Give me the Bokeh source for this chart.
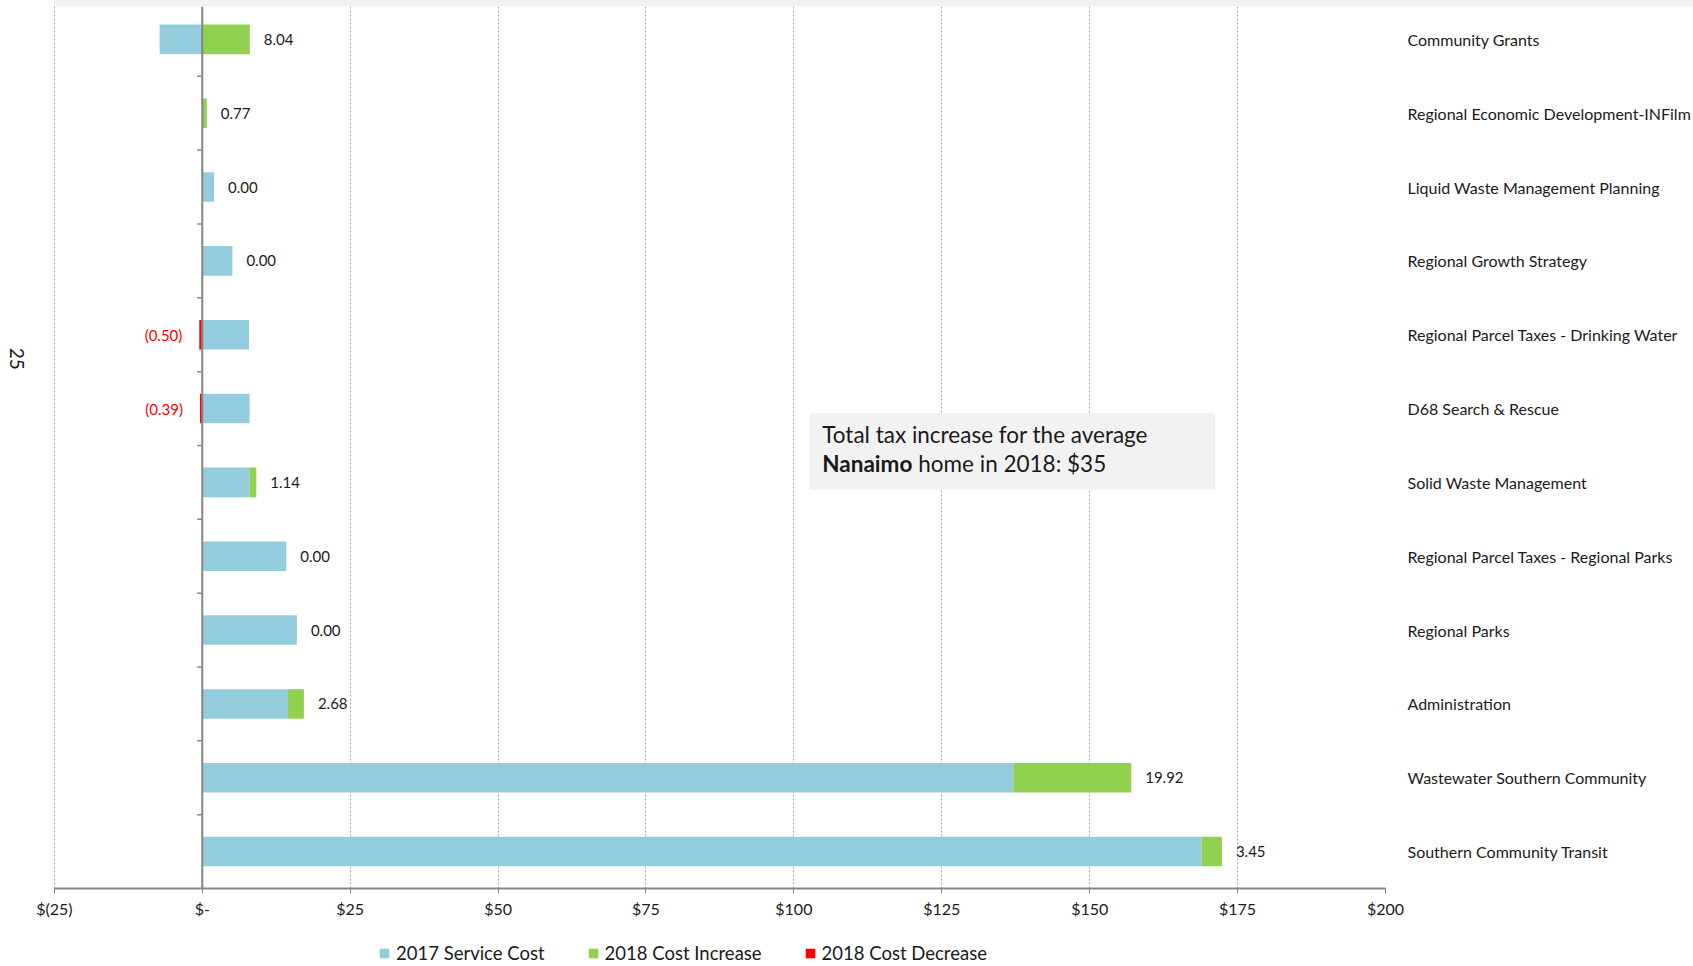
import math
from bokeh.plotting import figure
from bokeh.layouts import column
from bokeh.models import (Range1d, FixedTicker, Legend, LegendItem, Label,
                          BoxAnnotation, Span, ColumnDataSource, Div)
from bokeh.core.properties import value
from bokeh.embed import file_html
from bokeh.resources import INLINE

# ---------------- data ----------------
categories = [
    "Community Grants",
    "Regional Economic Development-INFilm",
    "Liquid Waste Management Planning",
    "Regional Growth Strategy",
    "Regional Parcel Taxes - Drinking Water",
    "D68 Search & Rescue",
    "Solid Waste  Management",
    "Regional Parcel Taxes - Regional Parks",
    "Regional Parks",
    "Administration",
    "Wastewater Southern Community",
    "Southern Community Transit",
]
service_2017 = [-7.2, 0.0, 2.0, 5.1, 7.9, 8.0, 8.0, 14.2, 16.0, 14.5, 137.1, 168.9]
increase_2018 = [8.04, 0.77, 0.0, 0.0, 0.0, 0.0, 1.14, 0.0, 0.0, 2.68, 19.92, 3.45]
decrease_2018 = [0.0, 0.0, 0.0, 0.0, -0.50, -0.39, 0.0, 0.0, 0.0, 0.0, 0.0, 0.0]
x_ticks = [-25, 0, 25, 50, 75, 100, 125, 150, 175, 200]
x_tick_labels = ["$(25)", "$-", "$25", "$50", "$75", "$100", "$125", "$150", "$175", "$200"]
legend_labels = ["2017 Service Cost", "2018 Cost Increase", "2018 Cost Decrease"]
note_line1 = "Total tax increase for the average"
note_bold = "Nanaimo"
note_rest = "home in 2018: $35"
side_label = "25"

BLUE = "#93CDDD"
GREEN = "#92D050"
RED = "#FF0000"
FONT = "Lato"
TXT = "#1a1a1a"
AXIS = "#868686"
W = 1693

n = len(categories)
ys = [n - 1 - i for i in range(n)]  # top row first

blue_left = [min(s, 0) for s in service_2017]
blue_right = [max(s, 0) for s in service_2017]
green_left = blue_right
green_right = [b + g for b, g in zip(blue_right, increase_2018)]
red_left = decrease_2018
red_right = [0.0] * n

src = ColumnDataSource(dict(y=ys, bl=blue_left, br=blue_right, gl=green_left,
                            gr=green_right, rl=red_left, rr=red_right))

pos_idx = [i for i in range(n) if decrease_2018[i] == 0]
neg_idx = [i for i in range(n) if decrease_2018[i] != 0]
pos_src = ColumnDataSource(dict(x=[green_right[i] for i in pos_idx],
                                y=[ys[i] for i in pos_idx],
                                t=[f"{increase_2018[i]:.2f}" for i in pos_idx]))
neg_src = ColumnDataSource(dict(x=[decrease_2018[i] for i in neg_idx],
                                y=[ys[i] for i in neg_idx],
                                t=[f"({abs(decrease_2018[i]):.2f})" for i in neg_idx]))

# frame extends a little left of -$25 so the side label sits inside it;
# the top of the first category band is hidden under the grey strip
x_left_pad = 9.1
top_clip = 0.055
p = figure(width=W, height=930, output_backend="svg", toolbar_location=None,
           x_range=Range1d(x_ticks[0] - x_left_pad, x_ticks[-1]),
           y_range=Range1d(-0.5, n - 0.5 - top_clip),
           y_axis_location="right", min_border_left=0, min_border_right=303,
           min_border_top=0, min_border_bottom=48)
p.outline_line_color = None
p.background_fill_color = "white"

# grid
p.xgrid.grid_line_color = "#a6a6a6"
p.xgrid.grid_line_dash = "2 2"
p.xgrid.grid_line_width = 1
p.ygrid.visible = False

# x axis
p.xaxis.ticker = FixedTicker(ticks=x_ticks)
p.xaxis.bounds = (x_ticks[0], x_ticks[-1])
p.xaxis.major_label_overrides = {t: l for t, l in zip(x_ticks, x_tick_labels)}
p.xaxis.axis_line_color = AXIS
p.xaxis.axis_line_width = 2
p.xaxis.major_tick_line_color = AXIS
p.xaxis.major_tick_out = 5
p.xaxis.major_tick_in = 0
p.xaxis.minor_tick_line_color = None
p.xaxis.major_label_standoff = 5
p.xaxis.major_label_text_font = FONT
p.xaxis.major_label_text_font_size = "16px"
p.xaxis.major_label_text_color = TXT

# right category axis
p.yaxis.ticker = FixedTicker(ticks=ys)
p.yaxis.major_label_overrides = {y: c for y, c in zip(ys, categories)}
p.yaxis.axis_line_color = None
p.yaxis.major_tick_line_color = None
p.yaxis.minor_tick_line_color = None
p.yaxis.major_label_standoff = 16
p.yaxis.major_label_text_font = FONT
p.yaxis.major_label_text_font_size = "16px"
p.yaxis.major_label_text_color = TXT

# bars
r_blue = p.hbar(y="y", left="bl", right="br", height=0.4, source=src,
                fill_color=BLUE, line_color=None)
r_green = p.hbar(y="y", left="gl", right="gr", height=0.4, source=src,
                 fill_color=GREEN, line_color=None)
r_red = p.hbar(y="y", left="rl", right="rr", height=0.4, source=src,
               fill_color=RED, line_color=None)

# zero axis line with category-boundary ticks
p.add_layout(Span(location=0, dimension="height", line_color=AXIS, line_width=2))
bounds = [k + 0.5 for k in range(n - 1)]
p.segment(x0=[-0.85] * len(bounds), x1=[0] * len(bounds), y0=bounds, y1=bounds,
          line_color=AXIS, line_width=1.5)

# value labels
p.text(x="x", y="y", text="t", source=pos_src, x_offset=14,
       text_baseline="middle", text_align="left", text_font=value(FONT),
       text_font_size="15px", text_color=TXT)
p.text(x="x", y="y", text="t", source=neg_src, x_offset=-17,
       text_baseline="middle", text_align="right", text_font=value(FONT),
       text_font_size="15px", text_color=RED)

# note box
p.add_layout(BoxAnnotation(left=102.6, right=171.2, bottom=4.90, top=5.94,
                           fill_color="#F2F2F2", fill_alpha=1, line_color=None,
                           level="underlay"))
p.add_layout(Label(x=104.8, y=5.645, text=note_line1, text_baseline="middle",
                   text_font=FONT, text_font_size="22.5px", text_color=TXT))
p.add_layout(Label(x=104.8, y=5.25, text=note_bold, text_baseline="middle",
                   text_font=FONT, text_font_size="22.5px", text_font_style="bold",
                   text_color=TXT))
p.add_layout(Label(x=104.8, y=5.25, x_offset=96, text=note_rest, text_baseline="middle",
                   text_font=FONT, text_font_size="22.5px", text_color=TXT))

# rotated side label
p.add_layout(Label(x=x_ticks[0], y=6.675, x_offset=-37, text=side_label, angle=-math.pi / 2,
                   text_align="center", text_baseline="middle", text_font=FONT,
                   text_font_size="19px", text_color=TXT))

# legend strip (swatch renderers sit outside the strip's visible range)
lg = figure(width=W, height=30, output_backend="svg", toolbar_location=None,
            x_range=Range1d(0, 1), y_range=Range1d(0, 1),
            min_border_left=0, min_border_right=0, min_border_top=0, min_border_bottom=0)
lg.axis.visible = False
lg.grid.visible = False
lg.outline_line_color = None
swatch = ColumnDataSource(dict(y=[-5.0], l=[-5.0], r=[-4.0]))
d1 = lg.hbar(y="y", left="l", right="r", height=1, source=swatch,
             fill_color=BLUE, line_color=None)
d2 = lg.hbar(y="y", left="l", right="r", height=1, source=swatch,
             fill_color=GREEN, line_color=None)
d3 = lg.hbar(y="y", left="l", right="r", height=1, source=swatch,
             fill_color=RED, line_color=None)
legend = Legend(items=[LegendItem(label=legend_labels[0], renderers=[d1]),
                       LegendItem(label=legend_labels[1], renderers=[d2]),
                       LegendItem(label=legend_labels[2], renderers=[d3])],
                orientation="horizontal", location=(378, 2))
legend.label_text_font = FONT
legend.label_text_font_size = "18.5px"
legend.label_text_color = TXT
legend.glyph_width = 12
legend.glyph_height = 12
legend.label_standoff = 6
legend.spacing = 42
legend.padding = 2
legend.margin = 0
legend.border_line_color = None
legend.background_fill_alpha = 0
lg.add_layout(legend, "center")

top_band = Div(text="", width=W - 54, height=6, margin=(0, 0, 0, 54),
               styles={"background-color": "#F2F2F2"})

layout = column(top_band, p, lg, spacing=0)
open("out.html", "w").write(file_html(layout, INLINE))
